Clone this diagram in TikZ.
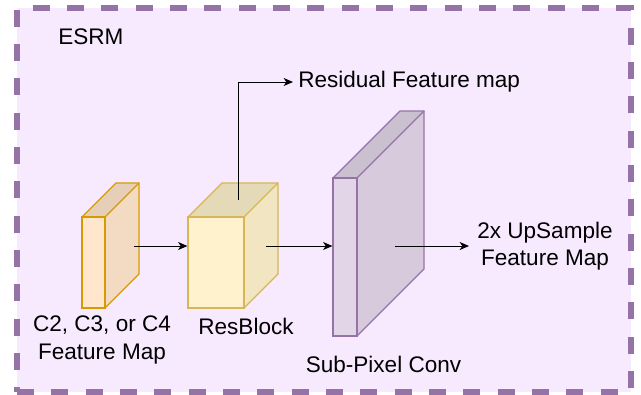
\documentclass[tikz,border=0pt]{standalone}
\usepackage{fontspec}
\setmainfont{Liberation Sans}
\usetikzlibrary{arrows.meta}
\definecolor{frameFill}{HTML}{F7EAFE}
\definecolor{frameLine}{HTML}{9673A6}
\definecolor{orangeFill}{HTML}{FFE6CC}
\definecolor{orangeLine}{HTML}{D79B00}
\definecolor{yellowFill}{HTML}{FFF2CC}
\definecolor{yellowLine}{HTML}{D6B656}
\definecolor{purpleFill}{HTML}{E1D5E7}
\definecolor{purpleLine}{HTML}{9673A6}
% #1 name, #2 x, #3 y (front top-left), #4 w, #5 h, #6 depth, #7 fill, #8 stroke
\newcommand\mycube[8]{%
  \fill[#7!90!black] (#2,#3) -- ++(#6,-#6) -- ++(#4,0) -- ++(-#6,#6) -- cycle;
  \fill[#7!95!black] (#2+#4,#3) -- ++(#6,-#6) -- ++(0,#5) -- ++(-#6,#6) -- cycle;
  \node[cubefront, fill=#7, draw=#8, minimum width={#4*0.75pt}, minimum height={#5*0.75pt}] (#1) at (#2+#4/2,#3+#5/2) {};
  \draw[cubeline, draw=#8] (#2,#3) -- ++(#6,-#6) -- ++(#4,0) -- ++(0,#5) -- ++(-#6,#6);
  \draw[cubeline, draw=#8] (#2+#4,#3) -- ++(#6,-#6);
}
\begin{document}
\begin{tikzpicture}[x=0.75pt, y=-0.75pt,
  cubefront/.style={rectangle, inner sep=0pt, line width=0.9pt},
  cubeline/.style={line width=0.9pt, line join=miter},
  arr/.style={line width=0.75pt, -{Stealth[length=7pt, width=6pt, inset=2pt]}},
  lbl/.style={font=\fontsize{16.9}{20.5}\selectfont, inner sep=0pt, align=center}]
\useasboundingbox (0,0) rectangle (641,394);
\node[draw=frameLine, fill=frameFill, line width=4pt, dash pattern=on 12.75pt off 13pt,
  rectangle, inner sep=0pt, minimum width={614*0.75pt}, minimum height={384*0.75pt}] (frame) at (324,200) {};
\node[lbl, anchor=west] (esrm) at (58,37) {ESRM};

\mycube{c1}{82}{217}{23}{91}{34}{orangeFill}{orangeLine}
\mycube{c2}{188}{217}{56}{91}{34}{yellowFill}{yellowLine}
\mycube{c3}{333}{178}{24}{158}{67}{purpleFill}{purpleLine}

\node[lbl] (l1) at (102,340) {C2, C3, or C4\\Feature Map};
\node[lbl] (l2) at (246,326) {ResBlock};
\node[lbl] (l3) at (383.5,364) {Sub-Pixel Conv};
\node[lbl] (out) at (545,246) {2x UpSample\\Feature Map};
\node[lbl, anchor=west] (res) at (298,82) {Residual Feature map};

\coordinate (s1) at (134,246);
\coordinate (s2) at (266,246);
\coordinate (s3) at (395,246);
\coordinate (s4) at (238,200);
\coordinate (e3) at (469,246);

\draw[arr] (s1) -- (c2.west |- s1);
\draw[arr] (s2) -- (c3.west |- s2);
\draw[arr] (s3) -- (e3);
\draw[arr] (s4) |- ([xshift=-3.75pt]res.west);
\end{tikzpicture}
\end{document}
